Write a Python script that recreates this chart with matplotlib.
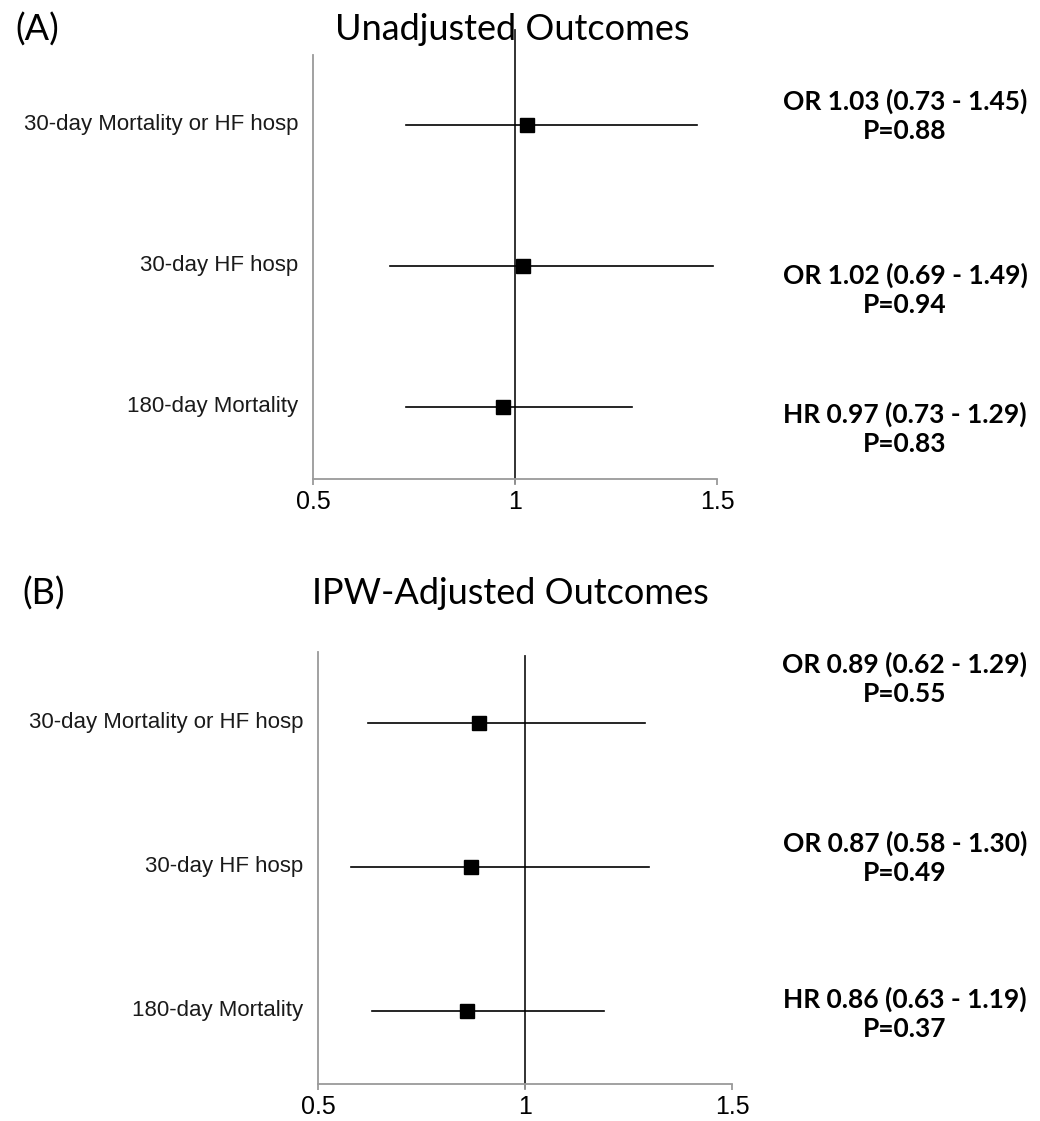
import matplotlib
matplotlib.use("Agg")
import matplotlib.pyplot as plt

outcomes = ["30-day Mortality or HF hosp", "30-day HF hosp", "180-day Mortality"]

unadj_est = [1.03, 1.02, 0.97]
unadj_lo = [0.73, 0.69, 0.73]
unadj_hi = [1.45, 1.49, 1.29]
unadj_labels = ["OR 1.03 (0.73 - 1.45)\nP=0.88", "OR 1.02 (0.69 - 1.49)\nP=0.94",
                "HR 0.97 (0.73 - 1.29)\nP=0.83"]

ipw_est = [0.89, 0.87, 0.86]
ipw_lo = [0.62, 0.58, 0.63]
ipw_hi = [1.29, 1.30, 1.19]
ipw_labels = ["OR 0.89 (0.62 - 1.29)\nP=0.55", "OR 0.87 (0.58 - 1.30)\nP=0.49",
              "HR 0.86 (0.63 - 1.19)\nP=0.37"]

xticks = [0.5, 1, 1.5]
xticklabels = ["0.5", "1", "1.5"]

W, H = 1040, 1121
fig = plt.figure(figsize=(W / 100, H / 100), dpi=100)

def px_axes(left, right, top, bottom):
    return fig.add_axes([left / W, 1 - bottom / H, (right - left) / W, (bottom - top) / H])

def panel(ax, est, lo, hi, labels, ylim, ref_top, ann_ys, lab_x):
    ys = [3, 2, 1]
    ax.set_xlim(0.5, 1.5)
    ax.set_ylim(*ylim)
    for y, e, l, h in zip(ys, est, lo, hi):
        ax.plot([l, h], [y, y], color="black", lw=1.2, zorder=2)
        ax.plot([e], [y], marker="s", ms=10, color="black", zorder=3, ls="none")
    ax.plot([1, 1], [ylim[0] - 0.025, ref_top], color="#222222", lw=1.3, clip_on=False, zorder=1)
    for s in ["top", "right"]:
        ax.spines[s].set_visible(False)
    for s in ["left", "bottom"]:
        ax.spines[s].set_color("#9a9a9a")
        ax.spines[s].set_linewidth(1.3)
    ax.set_yticks([])
    ax.set_xticks(xticks)
    ax.set_xticklabels(xticklabels, fontsize=18, family="Liberation Sans")
    ax.tick_params(axis="x", direction="out", length=4, width=1.3, color="#9a9a9a", pad=4)
    for y, lab in zip(ys, outcomes):
        ax.text(lab_x, y, lab, transform=ax.get_yaxis_transform(), ha="right", va="center",
                fontsize=16, family="Liberation Sans", color="#1a1a1a")
    for yy, lab in zip(ann_ys, labels):
        fig.text(905 / W, 1 - yy / H, lab, ha="center", va="center", fontsize=19,
                 family="Lato", weight="bold", linespacing=1.28)

axA = px_axes(313, 717, 55, 479)
panel(axA, unadj_est, unadj_lo, unadj_hi, unadj_labels, (0.489, 3.496), 3.674,
      [116, 290, 429], -0.037)
axB = px_axes(318, 732, 652, 1084)
panel(axB, ipw_est, ipw_lo, ipw_hi, ipw_labels, (0.493, 3.493), 3.465,
      [679, 858, 1014], -0.036)

fig.text(15 / W, 1 - 30 / H, "(A)", ha="left", va="center", fontsize=26, family="Lato")
fig.text(512 / W, 1 - 30 / H, "Unadjusted Outcomes", ha="center", va="center", fontsize=26, family="Lato")
fig.text(22 / W, 1 - 594 / H, "(B)", ha="left", va="center", fontsize=26, family="Lato")
fig.text(510 / W, 1 - 594 / H, "IPW-Adjusted Outcomes", ha="center", va="center", fontsize=26, family="Lato")

fig.savefig("out.png", dpi=100)
